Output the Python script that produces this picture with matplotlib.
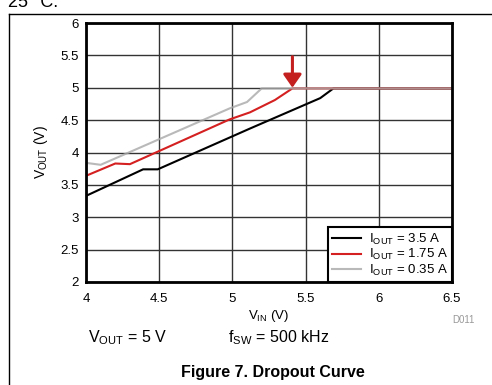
import matplotlib.pyplot as plt
from matplotlib.lines import Line2D

plt.rcParams['font.family'] = ['Liberation Sans', 'DejaVu Sans']
plt.rcParams['mathtext.fontset'] = 'custom'
plt.rcParams['mathtext.rm'] = 'Liberation Sans'
plt.rcParams['mathtext.it'] = 'Liberation Sans'
plt.rcParams['mathtext.default'] = 'regular'

# Dropout curves
vin_35 = [4.0, 4.39, 4.49, 4.98, 5.12, 5.60, 5.69, 6.5]
vout_35 = [3.33, 3.74, 3.74, 4.23, 4.37, 4.84, 4.99, 4.99]

vin_175 = [4.0, 4.20, 4.30, 4.98, 5.12, 5.29, 5.41, 6.5]
vout_175 = [3.64, 3.83, 3.82, 4.51, 4.62, 4.81, 4.99, 4.99]

vin_035 = [4.0, 4.10, 4.98, 5.10, 5.20, 6.5]
vout_035 = [3.84, 3.81, 4.68, 4.78, 4.99, 4.99]

labels = ["$I_{OUT}$ = 3.5 A", "$I_{OUT}$ = 1.75 A", "$I_{OUT}$ = 0.35 A"]
arrow_vin = 5.41

fig = plt.figure(figsize=(4.92, 3.85), dpi=100)
ax = fig.add_axes([86 / 492, 1 - 282 / 385, 366 / 492, 259 / 385])

ax.plot(vin_35, vout_35, color='black', lw=1.5, label=labels[0])
ax.plot(vin_175, vout_175, color='#d42020', lw=1.5, label=labels[1])
ax.plot(vin_035, vout_035, color='#a8a8a8', lw=1.5, alpha=0.8, label=labels[2])

# red arrow marking the dropout point
ax.annotate('', xy=(arrow_vin, 5.0), xytext=(arrow_vin, 5.48),
            arrowprops=dict(arrowstyle='-|>,head_length=0.36,head_width=0.25',
                            color='#c42020', lw=2.2,
                            mutation_scale=22, shrinkA=0, shrinkB=0))

ax.set_xlim(4, 6.5)
ax.set_ylim(2, 6)
ax.set_xticks([4, 4.5, 5, 5.5, 6, 6.5])
ax.set_xticklabels(['4', '4.5', '5', '5.5', '6', '6.5'])
ax.set_yticks([2, 2.5, 3, 3.5, 4, 4.5, 5, 5.5, 6])
ax.set_yticklabels(['2', '2.5', '3', '3.5', '4', '4.5', '5', '5.5', '6'])
ax.tick_params(length=0, labelsize=9.5)
ax.tick_params(axis='x', pad=8)
ax.tick_params(axis='y', pad=5)
ax.grid(True, color='#333333', lw=1)
ax.set_axisbelow(True)
for s in ax.spines.values():
    s.set_linewidth(2)

ax.set_xlabel("$V_{IN}$ (V)", fontsize=9.5, labelpad=2)
ax.set_ylabel("$V_{OUT}$ (V)", fontsize=10, labelpad=8)

leg = ax.legend(loc='lower right', fontsize=9.5, frameon=True, fancybox=False,
                framealpha=1, edgecolor='black', borderaxespad=0,
                handlelength=2.2, labelspacing=0.05, borderpad=0.3,
                handletextpad=0.6)
leg.get_frame().set_linewidth(1.5)

fig.text(463 / 492, 1 - 320 / 385, "D011", fontsize=7, color='#999999',
         ha='center', va='center')
fig.text(88 / 492, 1 - 338 / 385, "$V_{OUT}$ = 5 V", fontsize=11.5,
         ha='left', va='center')
fig.text(228 / 492, 1 - 338 / 385, "$f_{SW}$ = 500 kHz", fontsize=11.5,
         ha='left', va='center')
fig.text(273 / 492, 1 - 372 / 385, "Figure 7. Dropout Curve", fontsize=11.5,
         fontweight='bold', ha='center', va='center')
fig.text(8 / 492, 1 - 7 / 385, "25 °C.", fontsize=13, ha='left', va='baseline')

# frame around the figure area
fig.add_artist(Line2D([9 / 492, 1], [1 - 14 / 385, 1 - 14 / 385],
                      transform=fig.transFigure, color='black', lw=1))
fig.add_artist(Line2D([9 / 492, 9 / 492], [0, 1 - 14 / 385],
                      transform=fig.transFigure, color='black', lw=1))

fig.savefig("out.png", dpi=100)
